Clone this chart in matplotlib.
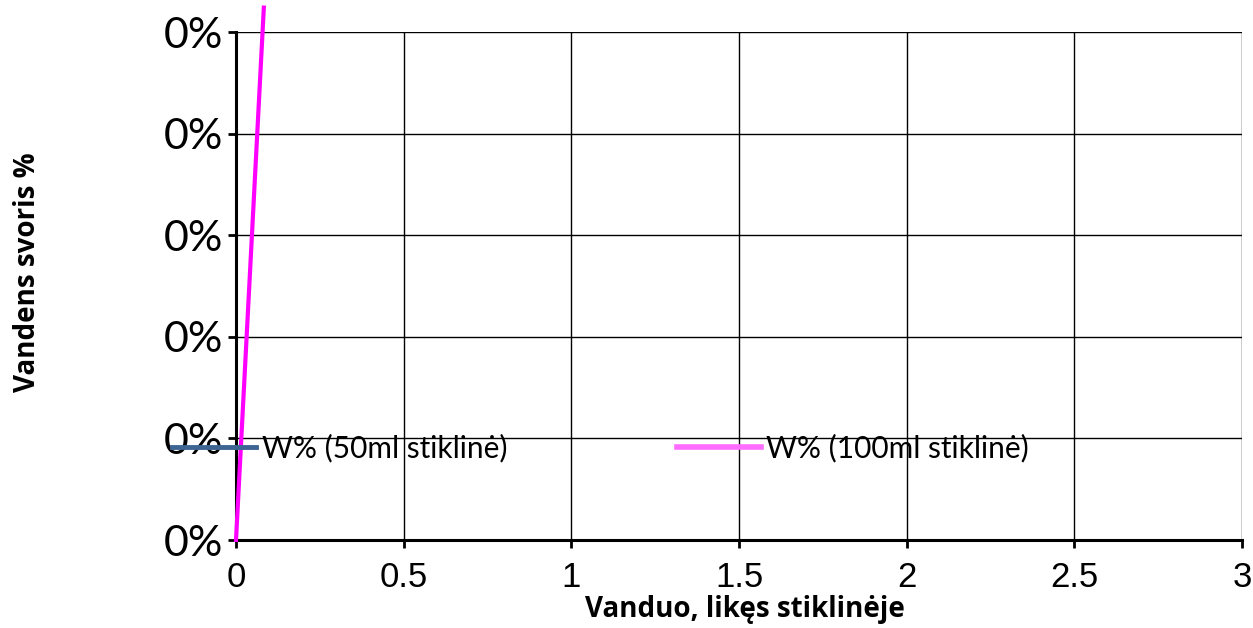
import numpy as np
import matplotlib
matplotlib.use("Agg")
import matplotlib.pyplot as plt
from matplotlib.ticker import FuncFormatter

# data
x_50ml = []
w_50ml = []
x_100ml = [0.0, 0.083]
w_100ml = [0.0, 0.00524]

series_labels = ["W% (50ml stiklinė)", "W% (100ml stiklinė)"]
x_ticks = [0, 0.5, 1, 1.5, 2, 2.5, 3]
x_tick_labels = ["0", "0.5", "1", "1.5", "2", "2.5", "3"]
y_ticks = [0, 0.001, 0.002, 0.003, 0.004, 0.005]

W, H = 1253, 628
fig = plt.figure(figsize=(W / 100, H / 100), dpi=100)
ax = fig.add_axes([236 / W, 1 - 540 / H, (1242 - 236) / W, (540 - 32) / H])

l1, = ax.plot(x_50ml, w_50ml, color="#3D6594", lw=3.5, label=series_labels[0])
l2, = ax.plot(x_100ml, w_100ml, color="#FF00FF", lw=3, label=series_labels[1],
              clip_on=False, zorder=5)

ax.set_xlim(0, 3)
ax.set_ylim(0, 0.005)
ax.set_xticks(x_ticks)
ax.set_xticklabels(x_tick_labels)
ax.set_yticks(y_ticks)
ax.yaxis.set_major_formatter(FuncFormatter(lambda v, p: "%d%%" % round(v * 100)))

ax.grid(True, color="black", lw=1)
ax.set_axisbelow(True)
for s in ["top", "right"]:
    ax.spines[s].set_visible(False)
for s in ["left", "bottom"]:
    ax.spines[s].set_linewidth(2.2)
    ax.spines[s].set_color("black")

ax.tick_params(axis="both", direction="out", length=6, width=2, color="black")
ax.tick_params(axis="x", pad=9)
ax.tick_params(axis="y", pad=3)
for t in ax.get_xticklabels():
    t.set_fontfamily("Liberation Sans")
    t.set_fontsize(25)
for t in ax.get_yticklabels():
    t.set_fontfamily("Lato")
    t.set_fontsize(31)

fig.text(745 / W, 1 - 609 / H, "Vanduo, likęs stiklinėje", ha="center", va="center",
         fontsize=20, fontweight="bold", family="Open Sans")
fig.text(28 / W, 1 - 272 / H, "Vandens svoris %", ha="center", va="center",
         rotation=90, fontsize=20, fontweight="bold", family="Open Sans")

fontsz = 21.5
em = fontsz / 72 * 100
leg = fig.legend(handles=[l1, l2], labels=series_labels, loc="center left",
                 bbox_to_anchor=(172 / W, 1 - 448 / H), ncol=2, frameon=False,
                 borderpad=0, borderaxespad=0, handlelength=84 / em,
                 handletextpad=6 / em, columnspacing=169 / em,
                 prop={"family": "Lato", "size": fontsz})
leg.legend_handles[0].set_linewidth(3.5)
leg.legend_handles[1].set_color("#FF6CFF")
leg.legend_handles[1].set_linewidth(4)

fig.savefig("out.png", dpi=100)
